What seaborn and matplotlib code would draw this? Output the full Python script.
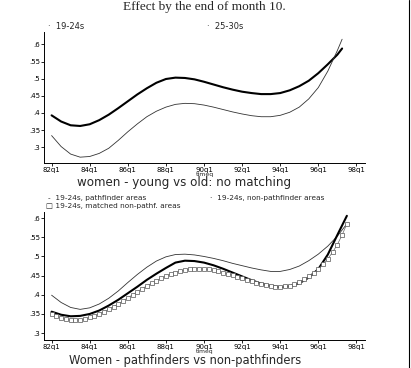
"""
Effect by the end of month 10: young vs old, pathfinders vs non-pathfinders
"""
import matplotlib
matplotlib.use("Agg")
import matplotlib.pyplot as plt
import seaborn as sns
from matplotlib.lines import Line2D

# Top panel: half-yearly readings (time in years, 82.0 = 82q1)
t_top = [82.0, 82.5, 83.0, 83.5, 84.0, 84.5, 85.0, 85.5, 86.0, 86.5, 87.0,
         87.5, 88.0, 88.5, 89.0, 89.5, 90.0, 90.5, 91.0, 91.5, 92.0, 92.5,
         93.0, 93.5, 94.0, 94.5, 95.0, 95.5, 96.0, 96.5, 97.0, 97.25]
young = [0.393, 0.375, 0.364, 0.362, 0.367, 0.379, 0.395, 0.414, 0.434, 0.454,
         0.472, 0.488, 0.499, 0.503, 0.502, 0.498, 0.491, 0.483, 0.475, 0.468,
         0.462, 0.458, 0.455, 0.455, 0.458, 0.466, 0.478, 0.494, 0.516, 0.542,
         0.570, 0.588]
old = [0.334, 0.302, 0.280, 0.271, 0.273, 0.282, 0.297, 0.320, 0.345, 0.368,
       0.389, 0.405, 0.417, 0.425, 0.428, 0.427, 0.423, 0.417, 0.410, 0.403,
       0.397, 0.392, 0.389, 0.389, 0.393, 0.402, 0.417, 0.441, 0.474, 0.522,
       0.582, 0.615]

# Bottom panel
t_bot = [82.0, 82.5, 83.0, 83.5, 84.0, 84.5, 85.0, 85.5, 86.0, 86.5, 87.0,
         87.5, 88.0, 88.5, 89.0, 89.5, 90.0, 90.5, 91.0, 91.5, 92.0, 92.5,
         93.0, 93.5, 94.0, 94.5, 95.0, 95.5, 96.0, 96.5, 97.0, 97.5]
pathfinder = [0.356, 0.348, 0.344, 0.345, 0.350, 0.359, 0.372, 0.387, 0.404,
              0.421, 0.439, 0.455, 0.470, 0.484, 0.489, 0.488, 0.484, 0.477,
              0.468, 0.458, 0.448, 0.438, 0.429, 0.423, 0.420, 0.422, 0.430,
              0.445, 0.467, 0.505, 0.556, 0.606]
non_pathfinder = [0.399, 0.380, 0.367, 0.362, 0.366, 0.376, 0.391, 0.410,
                  0.432, 0.453, 0.472, 0.488, 0.499, 0.505, 0.506, 0.504,
                  0.500, 0.495, 0.489, 0.482, 0.476, 0.470, 0.465, 0.461,
                  0.461, 0.466, 0.475, 0.489, 0.506, 0.527, 0.553, 0.585]

# matched non-pathfinder areas, one point per quarter
t_q = [82.0, 82.25, 82.5, 82.75, 83.0, 83.25, 83.5, 83.75, 84.0, 84.25, 84.5,
       84.75, 85.0, 85.25, 85.5, 85.75, 86.0, 86.25, 86.5, 86.75, 87.0, 87.25,
       87.5, 87.75, 88.0, 88.25, 88.5, 88.75, 89.0, 89.25, 89.5, 89.75, 90.0,
       90.25, 90.5, 90.75, 91.0, 91.25, 91.5, 91.75, 92.0, 92.25, 92.5, 92.75,
       93.0, 93.25, 93.5, 93.75, 94.0, 94.25, 94.5, 94.75, 95.0, 95.25, 95.5,
       95.75, 96.0, 96.25, 96.5, 96.75, 97.0, 97.25, 97.5]
matched = [0.349, 0.344, 0.340, 0.336, 0.334, 0.334, 0.335, 0.337, 0.341,
           0.345, 0.350, 0.356, 0.362, 0.369, 0.376, 0.384, 0.392, 0.400,
           0.408, 0.416, 0.423, 0.430, 0.437, 0.443, 0.449, 0.454, 0.458,
           0.462, 0.465, 0.467, 0.468, 0.468, 0.467, 0.466, 0.464, 0.461,
           0.458, 0.455, 0.451, 0.447, 0.443, 0.439, 0.435, 0.431, 0.428,
           0.425, 0.422, 0.421, 0.421, 0.422, 0.424, 0.428, 0.433, 0.440,
           0.448, 0.457, 0.468, 0.480, 0.494, 0.511, 0.531, 0.556, 0.585]

x_ticks = [82, 84, 86, 88, 90, 92, 94, 96, 98]
x_labels = ["82q1", "84q1", "86q1", "88q1", "90q1", "92q1", "94q1", "96q1", "98q1"]
y_ticks = [0.3, 0.35, 0.4, 0.45, 0.5, 0.55, 0.6]
y_labels = [".3", ".35", ".4", ".45", ".5", ".55", ".6"]


def style_axes(ax, ylim):
    """Stata-like axes: left and bottom only"""
    ax.set_xlim(81.6, 98.45)
    ax.set_ylim(*ylim)
    ax.set_xticks(x_ticks, x_labels)
    ax.set_yticks(y_ticks, y_labels)
    ax.tick_params(labelsize=5, length=2, width=0.6, pad=0.8, colors="black")
    for side in ["top", "right"]:
        ax.spines[side].set_visible(False)
    for side in ["left", "bottom"]:
        ax.spines[side].set_linewidth(0.7)
        ax.spines[side].set_color("black")
    ax.set_xlabel("")
    ax.set_ylabel("")


sns.set_style("ticks")
plt.rcParams["font.family"] = ["DejaVu Sans"]

fig = plt.figure(figsize=(4.11, 3.68), dpi=100)
ax1 = fig.add_axes([0.107, 0.558, 0.781, 0.354])
ax2 = fig.add_axes([0.107, 0.077, 0.781, 0.348])

# top panel
sns.lineplot(x=t_top, y=young, ax=ax1, color="black", linewidth=1.5)
sns.lineplot(x=t_top, y=old, ax=ax1, color="#333333", linewidth=0.6)
style_axes(ax1, (0.255, 0.635))

# bottom panel
sns.lineplot(x=t_bot, y=non_pathfinder, ax=ax2, color="#333333", linewidth=0.6)
sns.lineplot(x=t_bot, y=pathfinder, ax=ax2, color="black", linewidth=1.5)
sns.lineplot(x=t_q, y=matched, ax=ax2, color="#666666", linewidth=0.5,
             marker="s", markersize=3.2, markerfacecolor="white",
             markeredgecolor="#555555", markeredgewidth=0.5)
style_axes(ax2, (0.283, 0.617))

# titles and axis captions
fig.text(0.497, 0.981, "Effect by the end of month 10.", ha="center", va="center",
         family="Liberation Serif", fontsize=9.5)
fig.text(0.499, 0.526, "timeq", ha="center", va="center", fontsize=4.5)
fig.text(0.448, 0.504, "women - young vs old: no matching", ha="center",
         va="center", fontsize=8.6)
fig.text(0.499, 0.0435, "timeq", ha="center", va="center", fontsize=4.3)
fig.text(0.451, 0.002, "Women - pathfinders vs non-pathfinders", ha="center",
         va="bottom", fontsize=8.3)

# legend entries, Stata style
fig.text(0.117, 0.929, "·  19-24s", ha="left", va="center", fontsize=6)
fig.text(0.503, 0.929, "·  25-30s", ha="left", va="center", fontsize=6)
fig.text(0.117, 0.4633, "-  19-24s, pathfinder areas", ha="left", va="center",
         fontsize=5.3)
fig.text(0.510, 0.4633, "·  19-24s, non-pathfinder areas", ha="left",
         va="center", fontsize=5.3)
fig.text(0.112, 0.4402, "□ 19-24s, matched non-pathf. areas", ha="left",
         va="center", fontsize=5.3)

# page border on the right
fig.add_artist(Line2D([0.996, 0.996], [0, 1], color="black", linewidth=0.8,
                      transform=fig.transFigure))

fig.savefig("out.png", dpi=100)
